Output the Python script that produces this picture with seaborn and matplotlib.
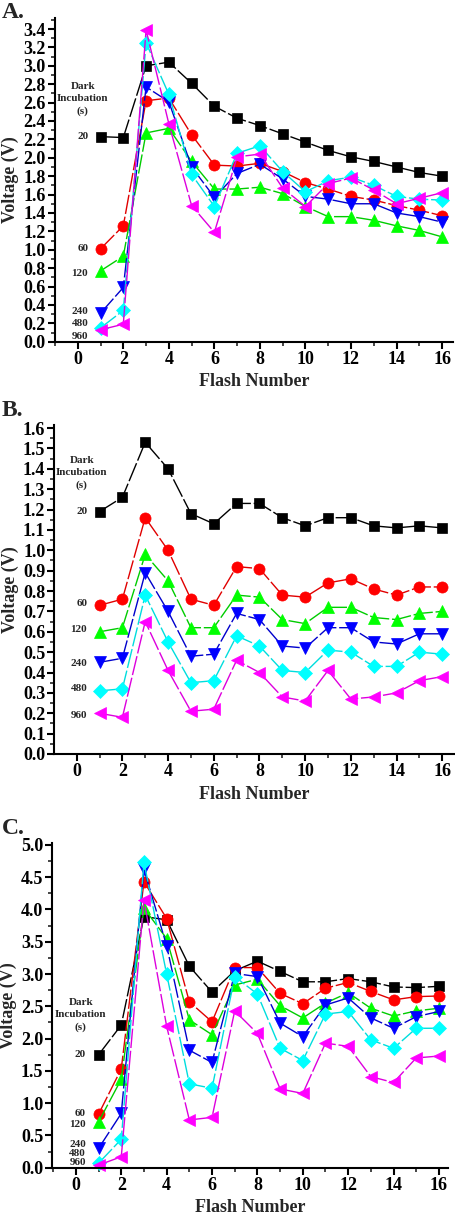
import matplotlib
matplotlib.use("Agg")
import matplotlib.pyplot as plt
import seaborn as sns
import numpy as np
from matplotlib.ticker import MultipleLocator

sns.set_style("ticks")
plt.rcParams['font.family'] = ['Liberation Serif', 'DejaVu Serif']
plt.rcParams['font.weight'] = 'bold'

flashes = list(range(1, 17))
series_names = ["20", "60", "120", "240", "480", "960"]

# Panel A
a_20 = [2.23, 2.22, 3.00, 3.04, 2.81, 2.56, 2.43, 2.35, 2.26, 2.17, 2.08, 2.01, 1.96, 1.90, 1.84, 1.80]
a_60 = [1.01, 1.26, 2.62, 2.65, 2.25, 1.92, 1.91, 1.94, 1.85, 1.73, 1.66, 1.58, 1.54, 1.48, 1.43, 1.37]
a_120 = [0.77, 0.93, 2.27, 2.32, 1.96, 1.66, 1.66, 1.68, 1.61, 1.47, 1.36, 1.36, 1.32, 1.26, 1.21, 1.14]
a_240 = [0.31, 0.59, 2.77, 2.61, 1.90, 1.57, 1.83, 1.93, 1.77, 1.58, 1.55, 1.50, 1.50, 1.40, 1.36, 1.30]
a_480 = [0.15, 0.34, 3.25, 2.69, 1.82, 1.47, 2.05, 2.13, 1.85, 1.63, 1.75, 1.79, 1.70, 1.58, 1.55, 1.54]
a_960 = [0.13, 0.19, 3.39, 2.37, 1.48, 1.19, 2.01, 2.04, 1.67, 1.47, 1.72, 1.78, 1.65, 1.50, 1.56, 1.62]

# Panel B
b_20 = [1.19, 1.26, 1.53, 1.40, 1.18, 1.13, 1.23, 1.23, 1.16, 1.12, 1.16, 1.16, 1.12, 1.11, 1.12, 1.11]
b_60 = [0.73, 0.76, 1.16, 1.00, 0.76, 0.73, 0.92, 0.91, 0.78, 0.77, 0.84, 0.86, 0.81, 0.78, 0.82, 0.82]
b_120 = [0.60, 0.62, 0.98, 0.85, 0.62, 0.62, 0.78, 0.77, 0.66, 0.64, 0.72, 0.72, 0.67, 0.66, 0.69, 0.70]
b_240 = [0.45, 0.47, 0.89, 0.70, 0.48, 0.49, 0.69, 0.66, 0.53, 0.52, 0.62, 0.62, 0.55, 0.54, 0.59, 0.59]
b_480 = [0.31, 0.32, 0.78, 0.55, 0.35, 0.36, 0.58, 0.53, 0.41, 0.40, 0.51, 0.50, 0.43, 0.43, 0.50, 0.49]
b_960 = [0.20, 0.18, 0.65, 0.41, 0.21, 0.22, 0.46, 0.40, 0.28, 0.26, 0.41, 0.27, 0.28, 0.30, 0.36, 0.38]

# Panel C
c_20 = [1.75, 2.21, 3.89, 3.84, 3.12, 2.72, 3.05, 3.20, 3.04, 2.88, 2.88, 2.93, 2.88, 2.80, 2.79, 2.81]
c_60 = [0.83, 1.53, 4.43, 3.86, 2.57, 2.26, 3.10, 3.10, 2.70, 2.54, 2.78, 2.87, 2.73, 2.60, 2.65, 2.66]
c_120 = [0.71, 1.37, 4.02, 3.55, 2.29, 2.06, 2.83, 2.92, 2.51, 2.32, 2.55, 2.71, 2.47, 2.35, 2.43, 2.47]
c_240 = [0.30, 0.84, 4.62, 3.44, 1.82, 1.63, 3.01, 2.96, 2.24, 2.03, 2.52, 2.63, 2.32, 2.16, 2.34, 2.42]
c_480 = [0.07, 0.44, 4.73, 3.00, 1.30, 1.23, 2.96, 2.69, 1.85, 1.66, 2.38, 2.42, 1.98, 1.85, 2.16, 2.16]
c_960 = [0.04, 0.17, 4.15, 2.19, 0.74, 0.78, 2.43, 2.08, 1.22, 1.15, 1.93, 1.88, 1.41, 1.32, 1.70, 1.73]

line_colors = ["#000000", "#e00000", "#00cc00", "#0000cc", "#00dddd", "#dd00dd"]
face_colors = ["#000000", "#ff0000", "#00ff00", "#0000ff", "#00ffff", "#ff00ff"]
markers = ["s", "o", "^", "v", "D", "<"]
msizes = [7, 8, 8.5, 8.5, 7, 8.5]

W, H = 456, 1216
fig = plt.figure(figsize=(W / 100, H / 100), dpi=100)


def box(l, r, b, t):
    return [l / W, 1 - b / H, (r - l) / W, (b - t) / H]


panels = [
    dict(rect=box(55, 453, 341.7, 18), data=[a_20, a_60, a_120, a_240, a_480, a_960],
         ylim=(0, 3.52), major=0.2, minor=0.1, xlim=(-1.0, 16.48),
         letter="A.", letter_y=13, dark=(0.22, 2.64), lab_x=0.46,
         lab_y=[2.23, 1.01, 0.74, 0.33, 0.20, 0.06]),
    dict(rect=box(54.3, 455, 754, 425), data=[b_20, b_60, b_120, b_240, b_480, b_960],
         ylim=(0, 1.615), major=0.1, minor=0.05, xlim=(-0.98, 16.56),
         letter="B.", letter_y=410, dark=(0.22, 1.38), lab_x=0.46,
         lab_y=[1.19, 0.74, 0.61, 0.445, 0.32, 0.19]),
    dict(rect=box(52.3, 448, 1167.7, 843), data=[c_20, c_60, c_120, c_240, c_480, c_960],
         ylim=(0, 5.03), major=0.5, minor=0.25, xlim=(-1.04, 16.4),
         letter="C.", letter_y=828, dark=(0.22, 2.37), lab_x=0.45,
         lab_y=[1.75, 0.84, 0.67, 0.36, 0.22, 0.08]),
]

for p in panels:
    ax = fig.add_axes(p["rect"])
    for i, vals in enumerate(p["data"]):
        sns.lineplot(x=flashes, y=vals, ax=ax, color=line_colors[i], lw=1.0,
                     marker=markers[i], markersize=msizes[i],
                     markerfacecolor=face_colors[i], markeredgecolor=face_colors[i],
                     markeredgewidth=0.5, linestyle=(0, (14, 2)), sort=False,
                     estimator=None, legend=False, clip_on=False)
    ax.set_xlim(*p["xlim"])
    ax.set_ylim(*p["ylim"])
    ax.xaxis.set_major_locator(MultipleLocator(2))
    ax.xaxis.set_minor_locator(MultipleLocator(1))
    ax.yaxis.set_major_locator(MultipleLocator(p["major"]))
    ax.yaxis.set_minor_locator(MultipleLocator(p["minor"]))
    ax.yaxis.set_major_formatter(matplotlib.ticker.FormatStrFormatter("%.1f"))
    sns.despine(ax=ax)
    for s in ["left", "bottom"]:
        ax.spines[s].set_linewidth(1.5)
        ax.spines[s].set_color("black")
    ax.tick_params(which="major", direction="out", length=5, width=1.5,
                   labelsize=13, colors="black", pad=1.5)
    ax.tick_params(which="minor", direction="out", length=3, width=1.2)
    for lab in ax.get_xticklabels() + ax.get_yticklabels():
        lab.set_fontweight("bold")
    ax.set_xlabel("Flash Number", fontsize=13, fontweight="bold", labelpad=4)
    ax.set_ylabel("Voltage (V)", fontsize=13, fontweight="bold", labelpad=3)
    ax.text(p["dark"][0], p["dark"][1], "Dark\nIncubation\n(s)", ha="center",
            va="center", fontsize=8, fontweight="bold", linespacing=1.45)
    for name, yv in zip(series_names, p["lab_y"]):
        ax.text(p["lab_x"], yv, name, ha="right", va="center", fontsize=8,
                fontweight="bold")
    fig.text(2 / W, 1 - p["letter_y"] / H, p["letter"], ha="left", va="center",
             fontsize=17, fontweight="bold")

fig.savefig("out.png", dpi=100)
